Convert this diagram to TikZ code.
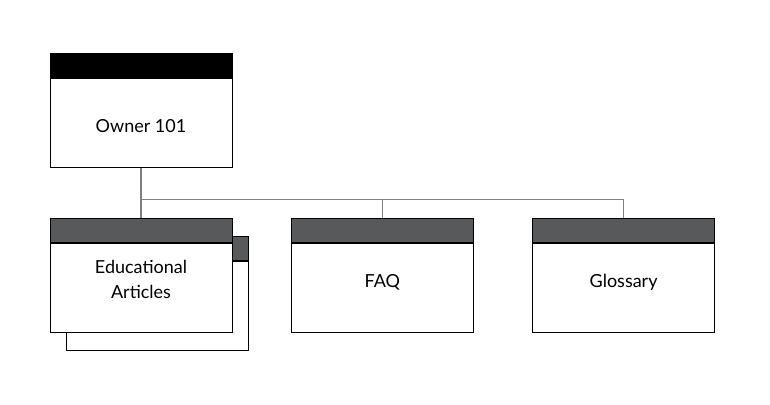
\documentclass[tikz,border=0pt]{standalone}
\usepackage{fontspec}
\setmainfont{Lato}
\usetikzlibrary{ % tikz packages
    positioning
}
\definecolor{topgray}{HTML}{58595B}
\definecolor{linkgray}{HTML}{808080}
\tikzset{cardbody/.style={
    draw=black,
    fill=white,
    line width=0.8pt,
    minimum width=182pt,
    minimum height=89pt,
    inner sep=0pt,
    align=center,
    text height=13pt,
    text depth=14pt,
    font=\fontsize{18}{25}\selectfont
}}
\tikzset{cardtop/.style={
    draw=black,
    fill=#1,
    line width=0.8pt,
    minimum width=182pt,
    minimum height=24pt,
    inner sep=0pt
}}
\tikzset{link/.style={
    draw=linkgray,
    line width=1.1pt
}}

\begin{document}
\begin{tikzpicture}[x=1pt,y=-1pt,node distance=58.5pt]
            \useasboundingbox (0,0) rectangle (770,404);
            % top card
            \node[cardbody, text height=18pt, text depth=0pt] (owner) at (141,123) {Owner 101};
            \node[cardtop=black] (owner-top) [above=0pt of owner] {};

            % stacked card behind the articles
            \node[cardbody] (edu-back) at (157.5,306) {};
            \node[cardtop=topgray] (edu-back-top) [above=0pt of edu-back] {};

            % second row
            \node[cardbody, text height=38pt, text depth=17pt] (edu) at (141,287.5) {Educational\\Articles};
            \node[cardtop=topgray] (edu-top) [above=0pt of edu] {};
            \node[cardbody] (faq) [right=of edu] {FAQ};
            \node[cardtop=topgray] (faq-top) [above=0pt of faq] {};
            \node[cardbody] (gloss) [right=of faq] {Glossary};
            \node[cardtop=topgray] (gloss-top) [above=0pt of gloss] {};

            \coordinate (bus) at ([yshift=-32pt]owner.south);
            \draw[link] (owner.south) -- (bus) -| (edu-top.north);
            \draw[link] (bus) -| (faq-top.north);
            \draw[link] (bus) -| (gloss-top.north);
        \end{tikzpicture}
\end{document}
